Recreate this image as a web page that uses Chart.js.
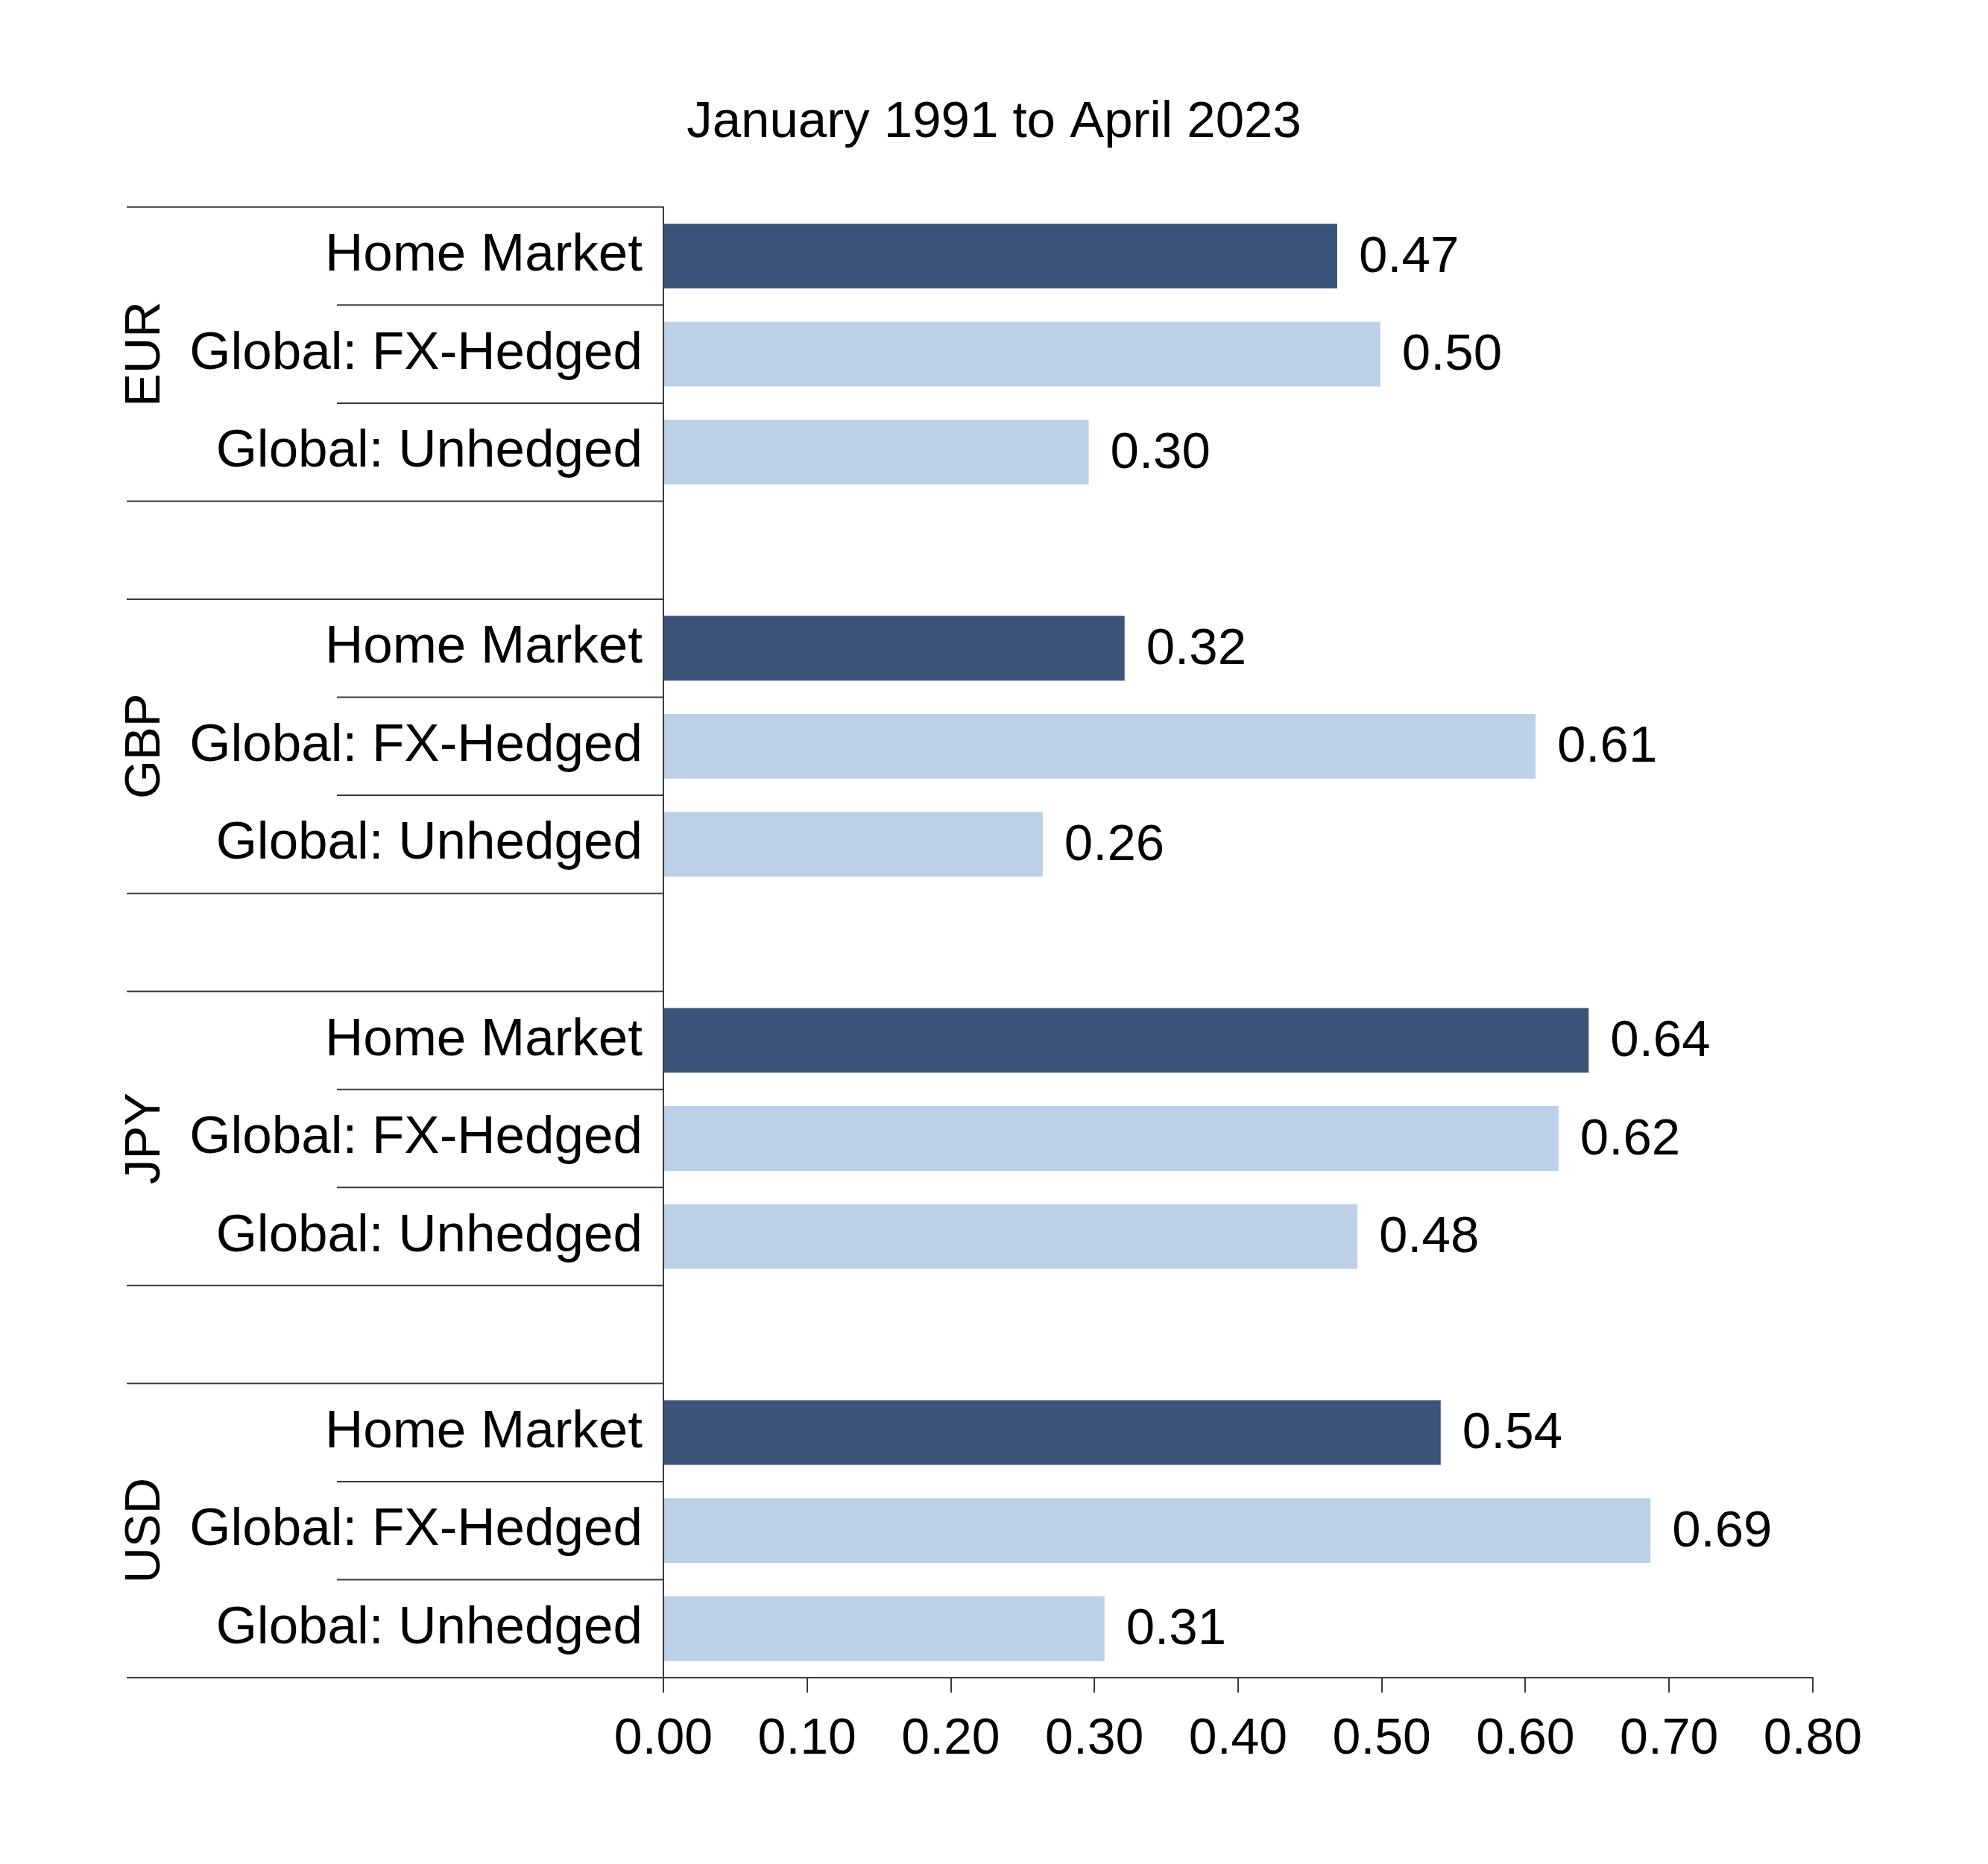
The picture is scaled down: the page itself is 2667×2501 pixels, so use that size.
<!DOCTYPE html>
<html><head><meta charset="utf-8">
<script src="https://cdn.jsdelivr.net/npm/chart.js@4.4.0/dist/chart.umd.min.js"></script>
<style>html,body{margin:0;padding:0;background:#fff}</style>
</head><body>
<canvas id="c" width="2667" height="2501"></canvas>
<script>
const titleText = 'January 1991 to April 2023';
const groups = ['EUR', 'GBP', 'JPY', 'USD'];
const categories = ['Home Market', 'Global: FX-Hedged', 'Global: Unhedged'];
const homeMarket = [0.469, 0.321, 0.644, 0.541];
const fxHedged   = [0.499, 0.607, 0.623, 0.687];
const unhedged   = [0.296, 0.264, 0.483, 0.307];
const xMin = 0, xMax = 0.8, xStep = 0.1;

const DARK = '#3c5479', LIGHT = '#bcd0e7', LINE = '#3a3a3a';
const FAMILY = '"Liberation Sans", Arial, Helvetica, sans-serif';

const rowLabels = [], rowValues = [], rowColors = [];
groups.forEach((g, i) => {
  const vals = [homeMarket[i], fxHedged[i], unhedged[i]];
  categories.forEach((c, j) => {
    rowLabels.push(c); rowValues.push(vals[j]); rowColors.push(j === 0 ? DARK : LIGHT);
  });
  if (i < groups.length - 1) { rowLabels.push(''); rowValues.push(null); rowColors.push(LIGHT); }
});

const decor = {
  id: 'decor',
  afterDatasetsDraw(chart) {
    const ctx = chart.ctx;
    ctx.save();
    ctx.fillStyle = '#000';
    ctx.font = '69px ' + FAMILY;
    ctx.textAlign = 'left';
    ctx.textBaseline = 'middle';
    chart.getDatasetMeta(0).data.forEach((bar, i) => {
      if (rowValues[i] == null) return;
      ctx.fillText(rowValues[i].toFixed(2), bar.x + 29, bar.y + 2);
    });
    ctx.restore();
  },
  afterDraw(chart) {
    const ctx = chart.ctx, ca = chart.chartArea, y = chart.scales.y;
    const rowH = y.getPixelForValue(1) - y.getPixelForValue(0);
    ctx.save();
    ctx.strokeStyle = LINE;
    ctx.lineWidth = 2;
    const hline = (x0, yy) => { ctx.beginPath(); ctx.moveTo(x0, yy); ctx.lineTo(ca.left, yy); ctx.stroke(); };
    groups.forEach((g, i) => {
      const first = i * 4;
      const top = y.getPixelForValue(first) - rowH / 2;
      hline(ca.left - 720, top);
      hline(ca.left - 720, top + 3 * rowH);
      hline(ca.left - 438, top + rowH);
      hline(ca.left - 438, top + 2 * rowH);
      ctx.save();
      ctx.translate(ca.left - 694, y.getPixelForValue(first + 1));
      ctx.rotate(-Math.PI / 2);
      ctx.fillStyle = '#000';
      ctx.font = '67px ' + FAMILY;
      ctx.textAlign = 'center';
      ctx.textBaseline = 'middle';
      ctx.fillText(g, 0, 0);
      ctx.restore();
    });
    ctx.restore();
  }
};

new Chart(document.getElementById('c'), {
  type: 'bar',
  data: {
    labels: rowLabels,
    datasets: [{ data: rowValues, backgroundColor: rowColors, borderWidth: 0, barPercentage: 0.66, categoryPercentage: 1, yAxisID: 'y' }]
  },
  options: {
    indexAxis: 'y',
    responsive: false,
    animation: false,
    devicePixelRatio: 1,
    layout: { padding: { left: 0, right: 0, top: 0, bottom: 0 } },
    plugins: {
      legend: { display: false },
      tooltip: { enabled: false },
      title: {
        display: true, text: titleText, color: '#000',
        font: { family: FAMILY, size: 69, weight: 'normal' },
        padding: { top: 124, bottom: 71 }
      }
    },
    scales: {
      x: {
        type: 'linear', min: xMin, max: xMax,
        ticks: { stepSize: xStep, callback: v => Number(v).toFixed(2), color: '#000',
                 font: { family: FAMILY, size: 68 }, padding: 22, maxRotation: 0, autoSkip: false },
        grid: { drawOnChartArea: false, drawTicks: true, tickLength: 20, color: LINE, lineWidth: 2 },
        border: { display: true, color: LINE, width: 2 },
        afterFit: s => { s.height = 250; }
      },
      y: {
        position: 'left',
        ticks: { color: '#000', font: { family: FAMILY, size: 71 }, padding: 28, autoSkip: false },
        grid: { drawOnChartArea: false, drawTicks: false },
        border: { display: true, color: LINE, width: 2 },
        afterFit: s => { s.width = 890; }
      },
      yRight: {
        type: 'category', position: 'right', display: true,
        ticks: { display: false },
        grid: { display: false, drawTicks: false },
        border: { display: false },
        afterFit: s => { s.width = 235; }
      }
    }
  },
  plugins: [decor]
});
</script>
</body></html>
